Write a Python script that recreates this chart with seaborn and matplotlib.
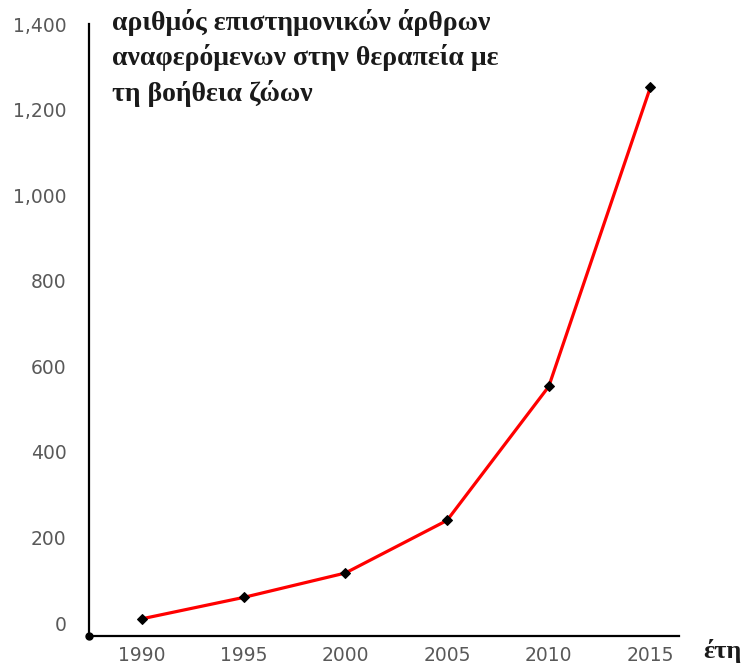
import matplotlib
matplotlib.use("Agg")
import matplotlib.pyplot as plt
import seaborn as sns
import pandas as pd
from matplotlib.ticker import FuncFormatter

years = [1990, 1995, 2000, 2005, 2010, 2015]
articles = [10, 60, 117, 240, 553, 1253]
x_ticks = [1990, 1995, 2000, 2005, 2010, 2015]
y_ticks = [0, 200, 400, 600, 800, 1000, 1200, 1400]
title_text = "αριθμός επιστημονικών άρθρων\nαναφερόμενων στην θεραπεία με\nτη βοήθεια ζώων"
xlabel_text = "έτη"

df = pd.DataFrame({"year": years, "articles": articles})

sns.set_style("white")
plt.rcParams['font.family'] = ['DejaVu Sans']

fig = plt.figure(figsize=(7.54, 6.68), dpi=100)
ax = fig.add_axes([0.118, 0.048, 0.7825, 0.916])

sns.lineplot(data=df, x="year", y="articles", ax=ax, color="#ff0000", linewidth=2.3,
             marker="D", markersize=5.5, markerfacecolor="black", markeredgecolor="black")

ax.set_xlim(1987.4, 2016.4)
ax.set_ylim(-30, 1400)
ax.set_xticks(x_ticks)
ax.set_yticks(y_ticks)
ax.yaxis.set_major_formatter(FuncFormatter(lambda v, p: f"{int(v):,}"))
ax.set_xlabel("")
ax.set_ylabel("")

for s in ["top", "right"]:
    ax.spines[s].set_visible(False)
for s in ["left", "bottom"]:
    ax.spines[s].set_color("black")
    ax.spines[s].set_linewidth(1.6)

ax.tick_params(axis="y", direction="in", length=5, width=3, color="black",
               labelsize=13.5, labelcolor="#595959", pad=16)
ax.tick_params(axis="x", length=0, labelsize=13.5, labelcolor="#595959", pad=7)
ax.plot([0], [0], marker="o", markersize=5, color="black", transform=ax.transAxes, clip_on=False)

fig.text(112 / 754, 1 - 9 / 668, title_text, ha="left", va="top", fontsize=20,
         fontweight="bold", family=["Liberation Serif", "DejaVu Serif"], color="#1a1a1a",
         linespacing=1.4)
fig.text(703 / 754, 1 - 651 / 668, xlabel_text, ha="left", va="center", fontsize=19,
         fontweight="bold", family=["Liberation Serif", "DejaVu Serif"], color="#1a1a1a")

fig.savefig("out.png", dpi=100)
